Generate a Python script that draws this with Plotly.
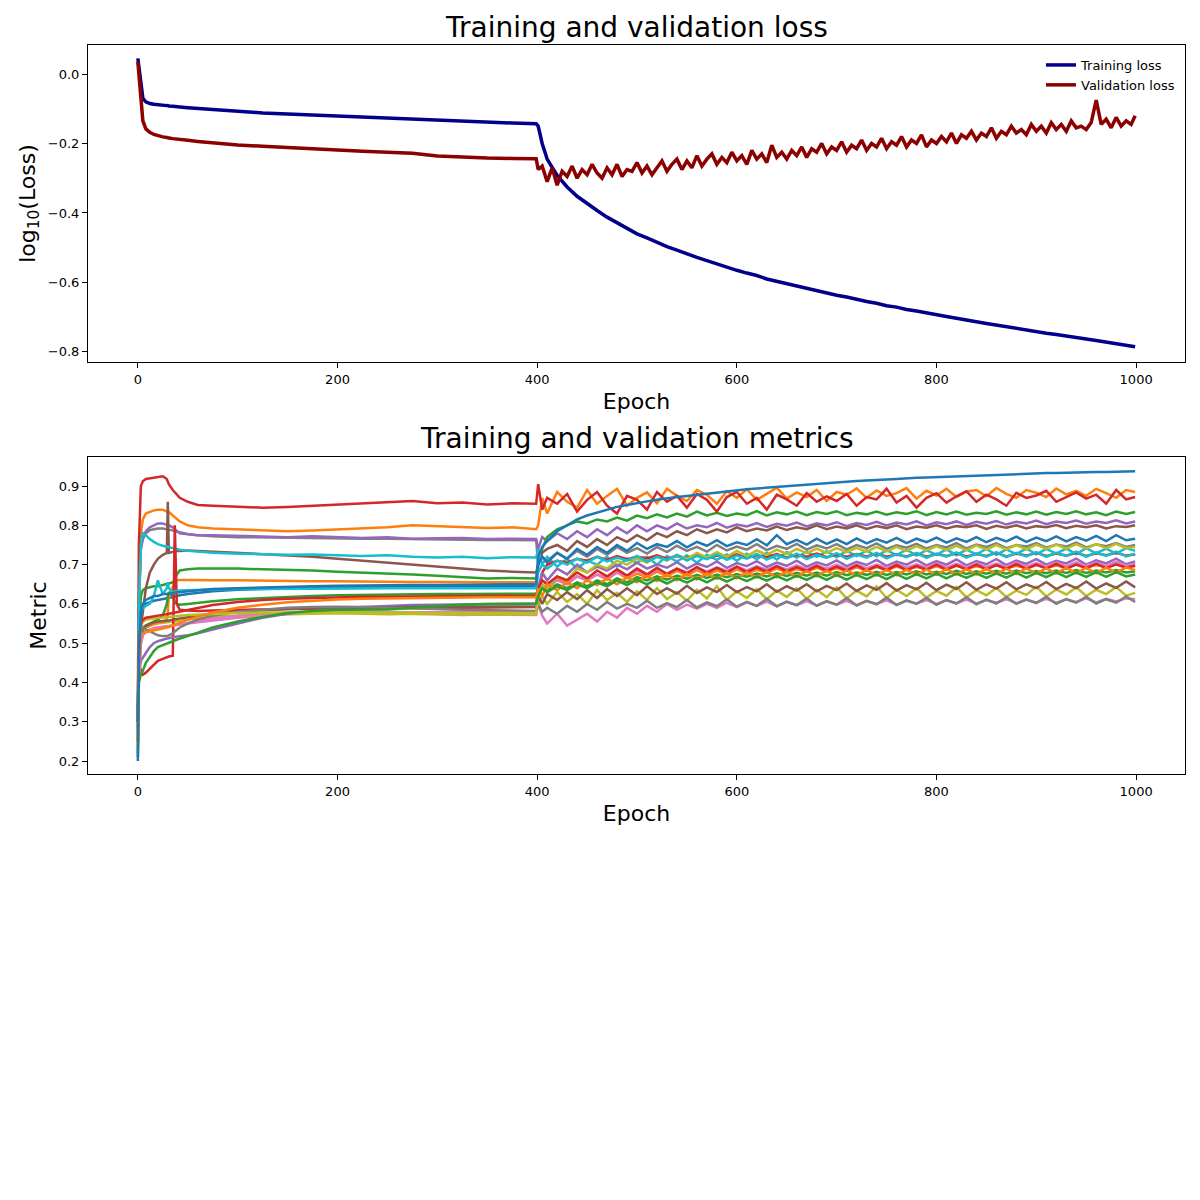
import plotly.graph_objects as go

# epochs (denser where the curves change fast)
epochs = [0, 1, 3, 5, 8, 12, 16, 20, 25, 29, 30, 31, 35, 37, 39, 42, 50, 60, 75, 100,
          125, 150, 175, 200, 225, 250, 275, 300, 325, 350, 375, 399,
          401, 405, 410, 420, 430, 440, 450, 460, 470, 480, 490,
          500, 510, 520, 530, 540, 550, 560, 570, 580, 590,
          600, 610, 620, 630, 640, 650, 660, 670, 680, 690,
          700, 710, 720, 730, 740, 750, 760, 770, 780, 790,
          800, 810, 820, 830, 840, 850, 860, 870, 880, 890,
          900, 910, 920, 930, 940, 950, 960, 970, 980, 990, 999]

val_epochs = [0, 1, 3, 5, 8, 12, 16, 20, 25, 29, 30, 31, 35, 37, 39, 42, 50, 60, 75, 100,
              125, 150, 175, 200, 225, 250, 275, 300, 325, 350, 375, 399,
              401, 405, 410, 415, 420, 425, 430, 435, 440, 445, 450, 455, 460, 465, 470, 475, 480, 485, 490, 495,
              500, 505, 510, 515, 520, 525, 530, 535, 540, 545, 550, 555, 560, 565, 570, 575, 580, 585, 590, 595,
              600, 605, 610, 615, 620, 625, 630, 635, 640, 645, 650, 655, 660, 665, 670, 675, 680, 685, 690, 695,
              700, 705, 710, 715, 720, 725, 730, 735, 740, 745, 750, 755, 760, 765, 770, 775, 780, 785, 790, 795,
              800, 805, 810, 815, 820, 825, 830, 835, 840, 845, 850, 855, 860, 865, 870, 875, 880, 885, 890, 895,
              900, 905, 910, 915, 920, 925, 930, 935, 940, 945, 950, 955, 960, 965, 970, 975, 980, 985, 990, 995, 999]

# log10 loss curves
train_loss = [0.045, 0.02, -0.04, -0.07, -0.08, -0.085, -0.087, -0.089, -0.09, -0.091, -0.091, -0.092, -0.093, -0.093, -0.094, -0.095, -0.097, -0.099, -0.103, -0.108, -0.112, -0.115, -0.118, -0.121, -0.124, -0.127, -0.13, -0.134, -0.136, -0.139, -0.141, -0.143,
              -0.150, -0.20, -0.245, -0.292, -0.325, -0.352, -0.374, -0.393, -0.412, -0.428, -0.444,
              -0.46, -0.472, -0.485, -0.497, -0.507, -0.518, -0.528, -0.537, -0.547, -0.556,
              -0.565, -0.573, -0.58, -0.59, -0.597, -0.603, -0.611, -0.618, -0.623, -0.631,
              -0.637, -0.642, -0.649, -0.655, -0.66, -0.667, -0.671, -0.678, -0.682, -0.688,
              -0.693, -0.698, -0.703, -0.709, -0.713, -0.718, -0.723, -0.727, -0.733, -0.737,
              -0.741, -0.746, -0.75, -0.755, -0.759, -0.763, -0.767, -0.772, -0.775, -0.78, -0.785]
val_loss = [0.035, 0.0, -0.09, -0.135, -0.158, -0.168, -0.174, -0.178, -0.181, -0.183, -0.183, -0.184, -0.186, -0.187, -0.188, -0.189, -0.191, -0.194, -0.198, -0.204, -0.208, -0.212, -0.215, -0.219, -0.222, -0.225, -0.228, -0.236, -0.24, -0.242, -0.243, -0.244,
            -0.275, -0.265, -0.31, -0.27, -0.32, -0.28, -0.295, -0.265, -0.30, -0.275, -0.29, -0.26, -0.285, -0.30, -0.27, -0.29, -0.26, -0.295, -0.275, -0.28,
            -0.255, -0.285, -0.265, -0.29, -0.27, -0.25, -0.28, -0.26, -0.245, -0.275, -0.25, -0.27, -0.235, -0.265, -0.245, -0.23, -0.26, -0.24, -0.255, -0.225,
            -0.25, -0.235, -0.26, -0.22, -0.245, -0.23, -0.255, -0.205, -0.24, -0.225, -0.245, -0.22, -0.235, -0.21, -0.24, -0.215, -0.225, -0.2, -0.23, -0.21,
            -0.22, -0.195, -0.225, -0.205, -0.215, -0.19, -0.22, -0.2, -0.21, -0.185, -0.215, -0.195, -0.205, -0.18, -0.21, -0.19, -0.2, -0.175, -0.21, -0.19,
            -0.2, -0.18, -0.195, -0.17, -0.2, -0.175, -0.185, -0.165, -0.19, -0.17, -0.18, -0.155, -0.185, -0.165, -0.175, -0.15, -0.17, -0.16, -0.175, -0.145,
            -0.165, -0.15, -0.17, -0.14, -0.16, -0.145, -0.165, -0.135, -0.155, -0.15, -0.16, -0.14, -0.075, -0.145, -0.13, -0.155, -0.125, -0.15, -0.135, -0.145, -0.12]

# metric curves (one list per metric)
metric_gray_a = [0.30, 0.60, 0.74, 0.765, 0.78, 0.788, 0.79, 0.792, 0.792, 0.79, 0.79, 0.79, 0.788, 0.786, 0.784, 0.782, 0.778, 0.775, 0.772, 0.77, 0.769, 0.768, 0.768, 0.767, 0.766, 0.766, 0.765, 0.764, 0.764, 0.763, 0.763, 0.762,
                 0.70, 0.72, 0.71, 0.73, 0.715, 0.735, 0.72, 0.74, 0.725, 0.745, 0.73,
                 0.742, 0.728, 0.745, 0.732, 0.748, 0.735, 0.745, 0.733, 0.75, 0.736,
                 0.746, 0.738, 0.752, 0.737, 0.748, 0.74, 0.753, 0.738, 0.749, 0.741,
                 0.752, 0.739, 0.75, 0.742, 0.754, 0.74, 0.749, 0.743, 0.753, 0.741,
                 0.75, 0.744, 0.755, 0.741, 0.751, 0.745, 0.754, 0.742, 0.75, 0.746,
                 0.755, 0.743, 0.751, 0.746, 0.756, 0.744, 0.752, 0.747, 0.755, 0.745, 0.75]
metric_purple_a = [0.30, 0.60, 0.74, 0.77, 0.785, 0.795, 0.80, 0.805, 0.805, 0.80, 0.80, 0.80, 0.795, 0.79, 0.785, 0.78, 0.777, 0.775, 0.775, 0.773, 0.772, 0.77, 0.772, 0.77, 0.768, 0.77, 0.766, 0.767, 0.768, 0.765, 0.766, 0.765,
                   0.74, 0.77, 0.76, 0.78, 0.765, 0.785, 0.77, 0.79, 0.775, 0.795, 0.78,
                   0.80, 0.785, 0.80, 0.79, 0.805, 0.792, 0.80, 0.795, 0.806, 0.794,
                   0.802, 0.797, 0.806, 0.796, 0.804, 0.799, 0.807, 0.797, 0.805, 0.80,
                   0.808, 0.798, 0.806, 0.801, 0.809, 0.80, 0.807, 0.802, 0.81, 0.80,
                   0.808, 0.803, 0.81, 0.801, 0.809, 0.804, 0.811, 0.802, 0.809, 0.805,
                   0.812, 0.803, 0.81, 0.806, 0.812, 0.804, 0.81, 0.806, 0.813, 0.805, 0.81]
metric_orange_a = [0.25, 0.55, 0.78, 0.815, 0.83, 0.835, 0.838, 0.84, 0.84, 0.835, 0.835, 0.834, 0.825, 0.82, 0.815, 0.81, 0.80, 0.795, 0.792, 0.79, 0.788, 0.785, 0.787, 0.79, 0.792, 0.795, 0.80, 0.798, 0.795, 0.793, 0.795, 0.79,
                   0.80, 0.87, 0.83, 0.885, 0.86, 0.845, 0.89, 0.855, 0.875, 0.893, 0.85,
                   0.87, 0.884, 0.856, 0.893, 0.875, 0.862, 0.89, 0.878, 0.855, 0.887,
                   0.87, 0.892, 0.865, 0.88, 0.896, 0.868, 0.884, 0.872, 0.89, 0.862,
                   0.885, 0.878, 0.894, 0.87, 0.889, 0.875, 0.882, 0.895, 0.868, 0.888,
                   0.876, 0.893, 0.872, 0.886, 0.89, 0.874, 0.895, 0.88, 0.87, 0.89,
                   0.883, 0.872, 0.894, 0.879, 0.888, 0.875, 0.893, 0.882, 0.87, 0.89, 0.885]
metric_green_a = [0.30, 0.52, 0.62, 0.635, 0.64, 0.642, 0.645, 0.645, 0.648, 0.65, 0.65, 0.652, 0.655, 0.66, 0.675, 0.685, 0.688, 0.69, 0.69, 0.69, 0.688, 0.687, 0.685, 0.682, 0.68, 0.678, 0.675, 0.672, 0.668, 0.665, 0.666, 0.665,
                  0.70, 0.74, 0.77, 0.79, 0.80, 0.81, 0.805, 0.815, 0.81, 0.82, 0.812,
                  0.825, 0.818, 0.828, 0.82, 0.83, 0.822, 0.835, 0.825, 0.832, 0.824,
                  0.83, 0.826, 0.836, 0.825, 0.833, 0.828, 0.835, 0.826, 0.834, 0.829,
                  0.836, 0.826, 0.832, 0.828, 0.835, 0.827, 0.833, 0.829, 0.836, 0.826,
                  0.834, 0.828, 0.835, 0.827, 0.832, 0.829, 0.836, 0.827, 0.833, 0.828,
                  0.835, 0.827, 0.834, 0.829, 0.836, 0.828, 0.833, 0.826, 0.835, 0.829, 0.834]
metric_red_a = [0.35, 0.75, 0.90, 0.912, 0.918, 0.92, 0.922, 0.924, 0.925, 0.918, 0.91, 0.905, 0.89, 0.885, 0.878, 0.87, 0.86, 0.852, 0.85, 0.848, 0.845, 0.847, 0.85, 0.852, 0.855, 0.858, 0.862, 0.856, 0.858, 0.853, 0.856, 0.855,
                0.905, 0.84, 0.87, 0.855, 0.88, 0.835, 0.865, 0.885, 0.85, 0.83, 0.875,
                0.865, 0.84, 0.885, 0.86, 0.875, 0.845, 0.88, 0.865, 0.835, 0.872,
                0.885, 0.855, 0.87, 0.84, 0.878, 0.866, 0.85, 0.882, 0.86, 0.874,
                0.862, 0.88, 0.85, 0.872, 0.866, 0.893, 0.858, 0.875, 0.845, 0.87,
                0.882, 0.858, 0.874, 0.887, 0.86, 0.878, 0.866, 0.85, 0.883, 0.87,
                0.876, 0.888, 0.86, 0.872, 0.884, 0.868, 0.878, 0.855, 0.89, 0.866, 0.872]
metric_brown_a = [0.30, 0.45, 0.54, 0.58, 0.64, 0.68, 0.70, 0.715, 0.725, 0.73, 0.86, 0.73, 0.733, 0.734, 0.735, 0.735, 0.736, 0.735, 0.733, 0.73, 0.727, 0.724, 0.72, 0.715, 0.71, 0.706, 0.70, 0.695, 0.69, 0.685, 0.682, 0.68,
                  0.70, 0.73, 0.74, 0.75, 0.735, 0.76, 0.745, 0.765, 0.75, 0.77, 0.758,
                  0.775, 0.762, 0.78, 0.77, 0.785, 0.775, 0.79, 0.78, 0.79, 0.782,
                  0.795, 0.785, 0.792, 0.787, 0.797, 0.788, 0.795, 0.79, 0.80, 0.79,
                  0.797, 0.792, 0.80, 0.791, 0.798, 0.793, 0.80, 0.79, 0.797, 0.794,
                  0.80, 0.792, 0.798, 0.795, 0.80, 0.791, 0.799, 0.794, 0.80, 0.792,
                  0.798, 0.795, 0.801, 0.793, 0.799, 0.795, 0.80, 0.792, 0.798, 0.796, 0.80]
metric_pink_a = [0.25, 0.42, 0.50, 0.52, 0.53, 0.535, 0.538, 0.54, 0.542, 0.543, 0.543, 0.544, 0.545, 0.546, 0.547, 0.548, 0.55, 0.553, 0.558, 0.565, 0.57, 0.575, 0.578, 0.58, 0.578, 0.576, 0.575, 0.574, 0.572, 0.573, 0.572, 0.572,
                 0.60, 0.57, 0.55, 0.575, 0.545, 0.56, 0.575, 0.555, 0.58, 0.565, 0.59,
                 0.575, 0.595, 0.58, 0.60, 0.585, 0.598, 0.588, 0.60, 0.59, 0.603,
                 0.592, 0.604, 0.595, 0.606, 0.594, 0.605, 0.597, 0.607, 0.596, 0.606,
                 0.598, 0.608, 0.597, 0.607, 0.60, 0.609, 0.598, 0.608, 0.601, 0.61,
                 0.60, 0.609, 0.602, 0.611, 0.601, 0.61, 0.603, 0.612, 0.602, 0.611,
                 0.604, 0.613, 0.603, 0.612, 0.605, 0.614, 0.604, 0.613, 0.606, 0.614, 0.612]
metric_olive_a = [0.22, 0.40, 0.50, 0.53, 0.54, 0.545, 0.548, 0.55, 0.552, 0.553, 0.553, 0.554, 0.555, 0.556, 0.557, 0.558, 0.56, 0.563, 0.567, 0.57, 0.572, 0.574, 0.575, 0.576, 0.575, 0.574, 0.575, 0.574, 0.573, 0.574, 0.573, 0.574,
                  0.60, 0.62, 0.60, 0.63, 0.605, 0.625, 0.60, 0.635, 0.61, 0.628, 0.605,
                  0.632, 0.61, 0.64, 0.612, 0.63, 0.608, 0.636, 0.614, 0.645, 0.61,
                  0.632, 0.615, 0.638, 0.612, 0.634, 0.618, 0.64, 0.613, 0.636, 0.617,
                  0.642, 0.614, 0.634, 0.619, 0.645, 0.615, 0.636, 0.62, 0.64, 0.616,
                  0.633, 0.621, 0.643, 0.617, 0.635, 0.622, 0.641, 0.618, 0.634, 0.623,
                  0.644, 0.619, 0.637, 0.624, 0.642, 0.62, 0.636, 0.625, 0.643, 0.621, 0.628]
metric_cyan_a = [0.30, 0.60, 0.75, 0.78, 0.775, 0.765, 0.758, 0.752, 0.748, 0.745, 0.745, 0.744, 0.742, 0.741, 0.74, 0.738, 0.735, 0.733, 0.73, 0.728, 0.727, 0.725, 0.726, 0.724, 0.722, 0.724, 0.72, 0.718, 0.72, 0.716, 0.719, 0.718,
                 0.74, 0.70, 0.72, 0.695, 0.715, 0.69, 0.71, 0.70, 0.72, 0.695, 0.715,
                 0.705, 0.72, 0.70, 0.722, 0.708, 0.724, 0.705, 0.725, 0.712, 0.726,
                 0.71, 0.728, 0.714, 0.73, 0.713, 0.732, 0.718, 0.733, 0.72, 0.734,
                 0.719, 0.735, 0.722, 0.736, 0.721, 0.737, 0.724, 0.738, 0.723, 0.737,
                 0.725, 0.739, 0.724, 0.738, 0.726, 0.74, 0.725, 0.739, 0.727, 0.741,
                 0.726, 0.74, 0.728, 0.741, 0.727, 0.742, 0.729, 0.741, 0.728, 0.742, 0.735]
metric_blue_b = [0.20, 0.45, 0.57, 0.59, 0.60, 0.605, 0.608, 0.61, 0.612, 0.614, 0.614, 0.615, 0.617, 0.618, 0.62, 0.622, 0.625, 0.628, 0.632, 0.636, 0.638, 0.64, 0.641, 0.642, 0.643, 0.643, 0.644, 0.645, 0.645, 0.646, 0.646, 0.646,
                 0.70, 0.72, 0.705, 0.73, 0.715, 0.74, 0.725, 0.745, 0.73, 0.75, 0.735,
                 0.755, 0.74, 0.752, 0.745, 0.76, 0.744, 0.758, 0.748, 0.762, 0.747,
                 0.757, 0.75, 0.765, 0.749, 0.775, 0.752, 0.763, 0.751, 0.766, 0.753,
                 0.764, 0.752, 0.767, 0.754, 0.765, 0.756, 0.768, 0.755, 0.766, 0.757,
                 0.769, 0.756, 0.767, 0.758, 0.77, 0.757, 0.768, 0.759, 0.771, 0.758,
                 0.769, 0.76, 0.772, 0.759, 0.77, 0.761, 0.773, 0.76, 0.775, 0.762, 0.766]
metric_orange_b = [0.25, 0.45, 0.52, 0.535, 0.54, 0.545, 0.55, 0.552, 0.555, 0.56, 0.58, 0.62, 0.645, 0.655, 0.66, 0.661, 0.661, 0.66, 0.66, 0.66, 0.659, 0.659, 0.658, 0.658, 0.657, 0.657, 0.656, 0.656, 0.655, 0.655, 0.655, 0.655,
                   0.64, 0.66, 0.65, 0.665, 0.655, 0.67, 0.66, 0.675, 0.662, 0.68, 0.665,
                   0.677, 0.668, 0.682, 0.67, 0.684, 0.672, 0.686, 0.674, 0.685, 0.676,
                   0.688, 0.677, 0.687, 0.679, 0.69, 0.68, 0.689, 0.682, 0.692, 0.683,
                   0.691, 0.684, 0.693, 0.685, 0.694, 0.686, 0.695, 0.687, 0.694, 0.688,
                   0.696, 0.688, 0.697, 0.689, 0.696, 0.69, 0.698, 0.69, 0.697, 0.691,
                   0.699, 0.692, 0.698, 0.692, 0.70, 0.693, 0.699, 0.694, 0.70, 0.694, 0.697]
metric_green_b = [0.28, 0.45, 0.52, 0.535, 0.545, 0.55, 0.555, 0.56, 0.57, 0.60, 0.62, 0.63, 0.62, 0.605, 0.60, 0.598, 0.60, 0.603, 0.607, 0.612, 0.615, 0.618, 0.62, 0.622, 0.623, 0.624, 0.624, 0.625, 0.625, 0.626, 0.626, 0.626,
                  0.63, 0.64, 0.635, 0.65, 0.64, 0.655, 0.645, 0.66, 0.65, 0.665, 0.655,
                  0.668, 0.66, 0.67, 0.662, 0.672, 0.664, 0.674, 0.666, 0.675, 0.668,
                  0.676, 0.669, 0.677, 0.67, 0.678, 0.671, 0.679, 0.672, 0.68, 0.672,
                  0.681, 0.673, 0.68, 0.674, 0.682, 0.674, 0.681, 0.675, 0.683, 0.675,
                  0.682, 0.676, 0.684, 0.676, 0.683, 0.677, 0.684, 0.677, 0.685, 0.678,
                  0.684, 0.678, 0.685, 0.679, 0.686, 0.679, 0.685, 0.68, 0.686, 0.68, 0.683]
metric_red_b = [0.33, 0.45, 0.43, 0.42, 0.425, 0.435, 0.445, 0.455, 0.46, 0.465, 0.465, 0.466, 0.468, 0.80, 0.60, 0.585, 0.583, 0.582, 0.583, 0.585, 0.586, 0.587, 0.587, 0.588, 0.588, 0.589, 0.589, 0.59, 0.59, 0.591, 0.591, 0.592,
                0.62, 0.68, 0.70, 0.71, 0.705, 0.715, 0.71, 0.72, 0.712, 0.722, 0.714,
                0.72, 0.716, 0.724, 0.715, 0.722, 0.717, 0.725, 0.716, 0.723, 0.718,
                0.726, 0.717, 0.724, 0.719, 0.727, 0.718, 0.725, 0.72, 0.728, 0.719,
                0.726, 0.72, 0.727, 0.721, 0.728, 0.72, 0.726, 0.721, 0.729, 0.72,
                0.727, 0.722, 0.729, 0.721, 0.727, 0.722, 0.73, 0.721, 0.728, 0.723,
                0.73, 0.722, 0.728, 0.723, 0.73, 0.722, 0.729, 0.724, 0.73, 0.723, 0.726]
metric_purple_b = [0.30, 0.42, 0.455, 0.462, 0.475, 0.49, 0.50, 0.505, 0.51, 0.512, 0.512, 0.513, 0.515, 0.516, 0.517, 0.518, 0.52, 0.525, 0.535, 0.55, 0.565, 0.575, 0.582, 0.588, 0.592, 0.595, 0.597, 0.598, 0.599, 0.60, 0.60, 0.601,
                   0.64, 0.68, 0.66, 0.69, 0.675, 0.70, 0.68, 0.695, 0.685, 0.70, 0.688,
                   0.705, 0.69, 0.70, 0.692, 0.706, 0.69, 0.703, 0.694, 0.708, 0.692,
                   0.704, 0.696, 0.709, 0.694, 0.705, 0.697, 0.71, 0.695, 0.706, 0.698,
                   0.711, 0.696, 0.707, 0.699, 0.712, 0.697, 0.708, 0.70, 0.712, 0.698,
                   0.709, 0.70, 0.713, 0.698, 0.709, 0.701, 0.714, 0.699, 0.71, 0.702,
                   0.714, 0.70, 0.71, 0.703, 0.715, 0.70, 0.711, 0.703, 0.715, 0.701, 0.708]
metric_brown_b = [0.30, 0.45, 0.52, 0.54, 0.545, 0.55, 0.553, 0.555, 0.556, 0.557, 0.557, 0.558, 0.56, 0.561, 0.562, 0.563, 0.566, 0.57, 0.575, 0.58, 0.584, 0.587, 0.589, 0.59, 0.591, 0.592, 0.592, 0.593, 0.593, 0.593, 0.594, 0.594,
                  0.62, 0.60, 0.625, 0.61, 0.63, 0.612, 0.635, 0.615, 0.638, 0.62, 0.64,
                  0.622, 0.645, 0.625, 0.64, 0.626, 0.646, 0.628, 0.642, 0.63, 0.648,
                  0.63, 0.643, 0.632, 0.65, 0.631, 0.645, 0.634, 0.65, 0.632, 0.646,
                  0.635, 0.652, 0.633, 0.647, 0.636, 0.653, 0.634, 0.648, 0.637, 0.654,
                  0.635, 0.649, 0.638, 0.655, 0.636, 0.65, 0.639, 0.655, 0.637, 0.65,
                  0.64, 0.656, 0.638, 0.651, 0.64, 0.657, 0.639, 0.652, 0.641, 0.657, 0.642]
metric_pink_b = [0.26, 0.40, 0.50, 0.52, 0.53, 0.535, 0.538, 0.54, 0.541, 0.542, 0.542, 0.543, 0.545, 0.546, 0.547, 0.548, 0.552, 0.556, 0.562, 0.57, 0.575, 0.578, 0.58, 0.581, 0.58, 0.58, 0.579, 0.579, 0.58, 0.579, 0.58, 0.58,
                 0.62, 0.65, 0.64, 0.66, 0.65, 0.67, 0.66, 0.675, 0.665, 0.68, 0.67,
                 0.685, 0.674, 0.688, 0.677, 0.69, 0.68, 0.692, 0.682, 0.693, 0.684,
                 0.695, 0.685, 0.696, 0.687, 0.697, 0.688, 0.698, 0.689, 0.699, 0.69,
                 0.70, 0.69, 0.701, 0.691, 0.70, 0.692, 0.702, 0.692, 0.701, 0.693,
                 0.703, 0.693, 0.702, 0.694, 0.704, 0.694, 0.703, 0.695, 0.705, 0.695,
                 0.704, 0.696, 0.705, 0.696, 0.706, 0.697, 0.705, 0.697, 0.707, 0.698, 0.702]
metric_gray_b = [0.28, 0.45, 0.53, 0.54, 0.535, 0.53, 0.525, 0.52, 0.518, 0.518, 0.518, 0.52, 0.525, 0.53, 0.535, 0.54, 0.55, 0.56, 0.57, 0.58, 0.585, 0.59, 0.592, 0.593, 0.592, 0.59, 0.588, 0.586, 0.585, 0.584, 0.583, 0.582,
                 0.60, 0.58, 0.59, 0.575, 0.595, 0.58, 0.60, 0.585, 0.605, 0.588, 0.60,
                 0.59, 0.608, 0.59, 0.602, 0.592, 0.61, 0.591, 0.604, 0.594, 0.612,
                 0.593, 0.605, 0.595, 0.613, 0.594, 0.606, 0.597, 0.614, 0.595, 0.607,
                 0.598, 0.615, 0.596, 0.608, 0.599, 0.616, 0.597, 0.609, 0.60, 0.616,
                 0.598, 0.61, 0.601, 0.617, 0.599, 0.611, 0.601, 0.617, 0.60, 0.611,
                 0.602, 0.618, 0.60, 0.612, 0.603, 0.618, 0.601, 0.612, 0.603, 0.619, 0.605]
metric_olive_b = [0.23, 0.45, 0.54, 0.555, 0.56, 0.562, 0.563, 0.564, 0.565, 0.566, 0.566, 0.567, 0.568, 0.568, 0.569, 0.57, 0.572, 0.573, 0.575, 0.577, 0.578, 0.578, 0.579, 0.579, 0.579, 0.578, 0.578, 0.577, 0.577, 0.577, 0.577, 0.577,
                  0.62, 0.65, 0.64, 0.67, 0.66, 0.69, 0.68, 0.70, 0.69, 0.71, 0.70,
                  0.715, 0.705, 0.72, 0.71, 0.725, 0.715, 0.73, 0.718, 0.732, 0.72,
                  0.735, 0.722, 0.736, 0.725, 0.738, 0.727, 0.74, 0.729, 0.741, 0.73,
                  0.742, 0.732, 0.743, 0.733, 0.745, 0.734, 0.745, 0.735, 0.747, 0.736,
                  0.747, 0.737, 0.748, 0.737, 0.749, 0.738, 0.75, 0.739, 0.75, 0.739,
                  0.751, 0.74, 0.751, 0.741, 0.752, 0.741, 0.752, 0.742, 0.753, 0.742, 0.745]
metric_cyan_b = [0.30, 0.50, 0.58, 0.59, 0.595, 0.60, 0.62, 0.66, 0.625, 0.64, 0.655, 0.64, 0.63, 0.632, 0.633, 0.634, 0.635, 0.636, 0.637, 0.638, 0.638, 0.638, 0.639, 0.639, 0.639, 0.64, 0.64, 0.64, 0.64, 0.64, 0.64, 0.64,
                 0.68, 0.70, 0.69, 0.71, 0.70, 0.715, 0.705, 0.72, 0.708, 0.718, 0.71,
                 0.722, 0.708, 0.72, 0.712, 0.725, 0.71, 0.722, 0.714, 0.726, 0.712,
                 0.723, 0.715, 0.727, 0.713, 0.724, 0.716, 0.728, 0.714, 0.725, 0.717,
                 0.729, 0.715, 0.726, 0.718, 0.73, 0.716, 0.727, 0.719, 0.73, 0.717,
                 0.728, 0.72, 0.731, 0.718, 0.729, 0.72, 0.732, 0.719, 0.73, 0.721,
                 0.732, 0.72, 0.73, 0.722, 0.733, 0.72, 0.731, 0.722, 0.733, 0.721, 0.728]
metric_red_c = [0.30, 0.50, 0.55, 0.56, 0.565, 0.567, 0.568, 0.57, 0.572, 0.574, 0.574, 0.575, 0.577, 0.578, 0.579, 0.58, 0.585, 0.59, 0.597, 0.605, 0.61, 0.613, 0.615, 0.617, 0.618, 0.618, 0.619, 0.62, 0.62, 0.62, 0.621, 0.621,
                0.64, 0.66, 0.65, 0.67, 0.66, 0.68, 0.665, 0.685, 0.67, 0.688, 0.672,
                0.69, 0.675, 0.692, 0.676, 0.69, 0.678, 0.694, 0.679, 0.692, 0.68,
                0.695, 0.681, 0.693, 0.682, 0.696, 0.683, 0.694, 0.684, 0.697, 0.684,
                0.695, 0.685, 0.698, 0.685, 0.696, 0.686, 0.699, 0.686, 0.697, 0.687,
                0.70, 0.687, 0.698, 0.688, 0.70, 0.688, 0.699, 0.689, 0.701, 0.689,
                0.70, 0.69, 0.702, 0.69, 0.70, 0.691, 0.702, 0.691, 0.701, 0.692, 0.697]
metric_orange_c = [0.25, 0.45, 0.52, 0.525, 0.528, 0.53, 0.532, 0.535, 0.538, 0.54, 0.54, 0.541, 0.545, 0.547, 0.55, 0.553, 0.56, 0.567, 0.578, 0.59, 0.598, 0.604, 0.608, 0.611, 0.613, 0.614, 0.615, 0.616, 0.616, 0.617, 0.617, 0.617,
                   0.64, 0.62, 0.65, 0.635, 0.655, 0.64, 0.66, 0.648, 0.665, 0.65, 0.668,
                   0.655, 0.672, 0.658, 0.675, 0.66, 0.677, 0.662, 0.678, 0.664, 0.68,
                   0.665, 0.681, 0.667, 0.682, 0.668, 0.683, 0.669, 0.684, 0.67, 0.685,
                   0.671, 0.686, 0.672, 0.687, 0.672, 0.687, 0.673, 0.688, 0.674, 0.688,
                   0.674, 0.689, 0.675, 0.689, 0.675, 0.69, 0.676, 0.69, 0.676, 0.691,
                   0.677, 0.691, 0.677, 0.692, 0.678, 0.692, 0.678, 0.693, 0.679, 0.693, 0.686]
metric_green_c = [0.30, 0.40, 0.42, 0.43, 0.45, 0.465, 0.48, 0.49, 0.495, 0.498, 0.50, 0.50, 0.505, 0.508, 0.51, 0.512, 0.518, 0.527, 0.54, 0.555, 0.567, 0.577, 0.582, 0.585, 0.585, 0.586, 0.59, 0.595, 0.598, 0.60, 0.60, 0.601,
                  0.62, 0.64, 0.63, 0.645, 0.635, 0.65, 0.64, 0.655, 0.645, 0.66, 0.648,
                  0.662, 0.65, 0.664, 0.652, 0.665, 0.654, 0.667, 0.655, 0.668, 0.657,
                  0.669, 0.658, 0.67, 0.659, 0.671, 0.66, 0.672, 0.661, 0.673, 0.661,
                  0.674, 0.662, 0.674, 0.663, 0.675, 0.663, 0.676, 0.664, 0.676, 0.665,
                  0.677, 0.665, 0.677, 0.666, 0.678, 0.666, 0.678, 0.667, 0.679, 0.667,
                  0.679, 0.668, 0.68, 0.668, 0.68, 0.669, 0.681, 0.669, 0.681, 0.67, 0.675]
metric_blue_a = [0.21, 0.45, 0.58, 0.60, 0.61, 0.615, 0.62, 0.62, 0.625, 0.625, 0.625, 0.625, 0.628, 0.628, 0.63, 0.63, 0.632, 0.635, 0.638, 0.64, 0.642, 0.644, 0.645, 0.646, 0.647, 0.647, 0.648, 0.648, 0.649, 0.649, 0.65, 0.65,
                 0.72, 0.745, 0.76, 0.785, 0.80, 0.815, 0.825, 0.833, 0.84, 0.847, 0.852,
                 0.857, 0.861, 0.865, 0.869, 0.872, 0.875, 0.878, 0.881, 0.884, 0.887,
                 0.89, 0.892, 0.894, 0.896, 0.898, 0.90, 0.902, 0.904, 0.906, 0.908,
                 0.91, 0.911, 0.913, 0.914, 0.916, 0.917, 0.918, 0.92, 0.921, 0.922,
                 0.923, 0.924, 0.925, 0.926, 0.927, 0.928, 0.928, 0.929, 0.93, 0.931,
                 0.932, 0.933, 0.933, 0.934, 0.935, 0.935, 0.936, 0.936, 0.937, 0.937, 0.938]

# matplotlib tab10
BLUE, ORANGE, GREEN, RED, PURPLE = "#1f77b4", "#ff7f0e", "#2ca02c", "#d62728", "#9467bd"
BROWN, PINK, GRAY, OLIVE, CYAN = "#8c564b", "#e377c2", "#7f7f7f", "#bcbd22", "#17becf"

metrics = [
    (metric_gray_a, GRAY), (metric_purple_a, PURPLE), (metric_orange_a, ORANGE),
    (metric_green_a, GREEN), (metric_red_a, RED), (metric_brown_a, BROWN),
    (metric_pink_a, PINK), (metric_olive_a, OLIVE), (metric_cyan_a, CYAN),
    (metric_blue_b, BLUE), (metric_orange_b, ORANGE), (metric_green_b, GREEN),
    (metric_red_b, RED), (metric_purple_b, PURPLE), (metric_brown_b, BROWN),
    (metric_pink_b, PINK), (metric_gray_b, GRAY), (metric_olive_b, OLIVE),
    (metric_cyan_b, CYAN), (metric_red_c, RED), (metric_orange_c, ORANGE),
    (metric_green_c, GREEN), (metric_blue_a, BLUE),
]

fig = go.Figure()

fig.add_trace(go.Scatter(x=epochs, y=train_loss, mode="lines", name="Training loss",
                         line=dict(color="#00008b", width=3.5), xaxis="x", yaxis="y"))
fig.add_trace(go.Scatter(x=val_epochs, y=val_loss, mode="lines", name="Validation loss",
                         line=dict(color="#8b0000", width=3.5), xaxis="x", yaxis="y"))

for vals, col in metrics:
    if len(vals) != len(epochs):
        print("length mismatch", len(vals))
    fig.add_trace(go.Scatter(x=epochs, y=vals, mode="lines", showlegend=False,
                             line=dict(color=col, width=2.5), xaxis="x2", yaxis="y2"))

axis_style = dict(showline=True, mirror=True, linecolor="black", linewidth=1,
                  ticks="outside", ticklen=5, tickwidth=1, tickcolor="black",
                  showgrid=False, zeroline=False, tickfont=dict(size=13),
                  automargin=False)

x_dom = [88 / 1200, 1185 / 1200]
fig.update_layout(
    width=1200, height=1200,
    margin=dict(l=0, r=0, t=0, b=0),
    paper_bgcolor="white", plot_bgcolor="white",
    font=dict(family="DejaVu Sans", color="black"),
    xaxis=dict(domain=x_dom, anchor="y", range=[-49.95, 1048.95],
               tickvals=[0, 200, 400, 600, 800, 1000],
               title=dict(text="Epoch", font=dict(size=22), standoff=8), **axis_style),
    yaxis=dict(domain=[1 - 362 / 1200, 1 - 45 / 1200], anchor="x", range=[-0.829, 0.0835],
               tickvals=[-0.8, -0.6, -0.4, -0.2, 0.0],
               ticktext=["\u22120.8", "\u22120.6", "\u22120.4", "\u22120.2", "0.0"],
               title=dict(text="log<sub>10</sub>(Loss)", font=dict(size=22), standoff=6),
               **axis_style),
    xaxis2=dict(domain=x_dom, anchor="y2", range=[-49.95, 1048.95],
                tickvals=[0, 200, 400, 600, 800, 1000],
                title=dict(text="Epoch", font=dict(size=22), standoff=8), **axis_style),
    yaxis2=dict(domain=[1 - 774 / 1200, 1 - 457 / 1200], anchor="x2", range=[0.167, 0.974],
                tickvals=[0.2, 0.3, 0.4, 0.5, 0.6, 0.7, 0.8, 0.9],
                ticktext=["0.2", "0.3", "0.4", "0.5", "0.6", "0.7", "0.8", "0.9"],
                title=dict(text="Metric", font=dict(size=22), standoff=6), **axis_style),
    legend=dict(x=1180 / 1200, y=1 - 50 / 1200, xanchor="right", yanchor="top",
                bgcolor="rgba(0,0,0,0)", font=dict(size=13)),
    annotations=[
        dict(text="Training and validation loss", x=0.5304, y=1 - 46 / 1200,
             xref="paper", yref="paper", xanchor="center", yanchor="bottom",
             showarrow=False, font=dict(size=28)),
        dict(text="Training and validation metrics", x=0.5304, y=1 - 457 / 1200,
             xref="paper", yref="paper", xanchor="center", yanchor="bottom",
             showarrow=False, font=dict(size=28)),
    ],
)

# the page body has a default 8px margin; drop it so the figure sits at 0,0
fig.write_html("out.html", config={"displayModeBar": False},
               post_script="document.body.style.margin='0px';")
